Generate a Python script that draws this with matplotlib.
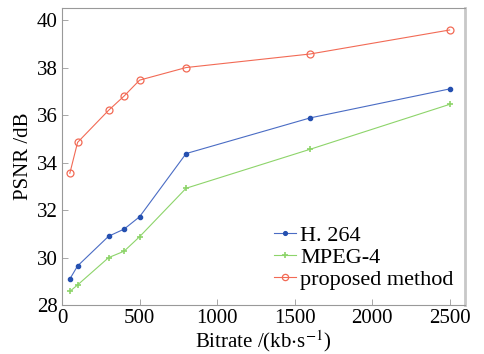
import matplotlib
matplotlib.use("Agg")
import matplotlib.pyplot as plt

plt.rcParams['font.family'] = ['Liberation Serif', 'DejaVu Serif']
plt.rcParams['mathtext.fontset'] = 'stix'

## data
bitrate = [50, 100, 300, 400, 500, 800, 1600, 2500]
psnr_h264 = [29.1, 29.65, 30.9, 31.2, 31.72, 34.38, 35.88, 37.1]
psnr_mpeg4 = [28.58, 28.85, 30.0, 30.27, 30.88, 32.92, 34.56, 36.45]
psnr_proposed = [33.55, 34.85, 36.2, 36.8, 37.47, 38.0, 38.57, 39.58]

xticks = [0, 500, 1000, 1500, 2000, 2500]
yticks = [28, 30, 32, 34, 36, 38, 40]

fig = plt.figure(figsize=(4.85, 3.54), dpi=100)
ax = fig.add_axes([0.128, 0.138, 0.831, 0.839])

ax.plot(bitrate, psnr_h264, color='#4a6cc4', lw=0.8, marker='o', ms=3,
        mfc='#2550b0', mec='#2550b0', label='H. 264')
ax.plot(bitrate, psnr_mpeg4, color='#8dd46a', lw=0.8, marker='+', ms=4.5,
        mew=1.2, label='MPEG-4')
ax.plot(bitrate, psnr_proposed, color='#f26a55', lw=0.8, marker='o', ms=5,
        mfc='none', mec='#f26a55', mew=0.9, label='proposed method')

ax.set_xlim(0, 2600)
ax.set_ylim(28, 40.5)
ax.set_xticks(xticks)
ax.set_yticks(yticks)
ax.tick_params(direction='in', length=4, width=0.6, color='#999999',
               labelsize=15, pad=3)

for s in ax.spines.values():
    s.set_color('#999999')
    s.set_linewidth(0.8)
ax.spines['right'].set_color('#c8c8c8')
ax.spines['right'].set_linewidth(2)

ax.set_xlabel(r'Bitrate /(kb$\cdot$s$^{-1}$)', fontsize=15, labelpad=0)
ax.set_ylabel('PSNR /dB', fontsize=15, labelpad=3)

leg = ax.legend(loc='lower right', bbox_to_anchor=(1.01, 0.0), frameon=False,
                fontsize=16, handlelength=1.0, handletextpad=0.2,
                labelspacing=0.05, borderaxespad=0.3, markerscale=0.9)

fig.savefig('out.png', dpi=100)
